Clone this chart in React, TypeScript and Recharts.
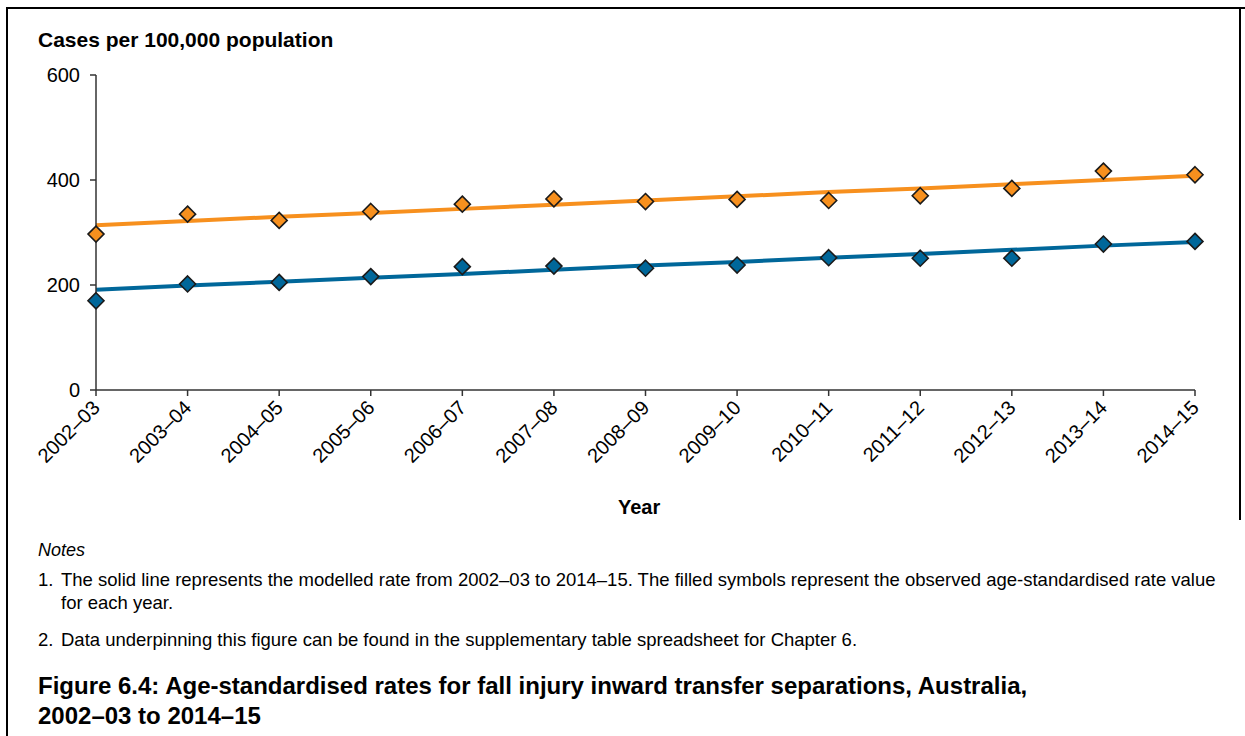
import React from "react";
import { LineChart, Line, XAxis, YAxis } from "recharts";

const years = ["2002–03","2003–04","2004–05","2005–06","2006–07","2007–08","2008–09","2009–10","2010–11","2011–12","2012–13","2013–14","2014–15"];
const orangeObserved = [297, 335, 323, 340, 354, 364, 359, 363, 361, 370, 384, 417, 410];
const orangeModelled = [314, 322, 330, 337, 345, 353, 361, 369, 377, 384, 392, 400, 408];
const blueObserved = [170, 202, 205, 216, 235, 236, 232, 238, 252, 251, 251, 278, 283];
const blueModelled = [191, 199, 206, 214, 221, 229, 237, 244, 252, 259, 267, 275, 282];
const yTicks = [0, 200, 400, 600];

const ORANGE = "#F7901E";
const BLUE = "#00679A";
const FONT = "'Liberation Sans', Arial, sans-serif";

const data = years.map((y, i) => ({
  year: y,
  oObs: orangeObserved[i],
  oMod: orangeModelled[i],
  bObs: blueObserved[i],
  bMod: blueModelled[i],
}));

const makeDiamond = (fill: string) => (props: any) => {
  const { cx, cy, index } = props;
  if (cx == null || cy == null) return <g key={index} />;
  const r = 8;
  return (
    <path
      key={index}
      d={`M${cx},${cy - r}L${cx + r},${cy}L${cx},${cy + r}L${cx - r},${cy}Z`}
      fill={fill}
      stroke="#1a1a1a"
      strokeWidth={1.6}
    />
  );
};

const XTick = (props: any) => {
  const { x, y, payload } = props;
  return (
    <g transform={`translate(${x + 5},${y + 11})`}>
      <text
        x={0}
        y={0}
        textAnchor="end"
        transform="rotate(-45)"
        fontFamily={FONT}
        fontSize={20}
        fill="#000"
      >
        {payload.value}
      </text>
    </g>
  );
};

export default function App() {
  return (
    <div style={{ position: "absolute", left: 0, top: 0, width: 1245, height: 736, background: "#fff", fontFamily: FONT, color: "#000" }}>
      <div style={{ position: "absolute", left: 6, top: 7, width: 1239, height: 2, background: "#000" }} />
      <div style={{ position: "absolute", left: 6, top: 7, width: 2, height: 729, background: "#000" }} />
      <div style={{ position: "absolute", left: 1239, top: 7, width: 2, height: 513, background: "#000" }} />
      <div style={{ position: "absolute", left: 38, top: 29, fontSize: 21, fontWeight: "bold", lineHeight: "22px", whiteSpace: "nowrap" }}>
        Cases per 100,000 population
      </div>
      <div style={{ position: "absolute", left: 0, top: 0 }}>
        <LineChart width={1245} height={530} data={data} margin={{ top: 75, right: 50, bottom: 30, left: 26 }}>
          <XAxis
            dataKey="year"
            interval={0}
            height={110}
            tick={<XTick />}
            tickSize={6}
            axisLine={{ stroke: "#333", strokeWidth: 1.5 }}
            tickLine={{ stroke: "#333", strokeWidth: 1.5 }}
          />
          <YAxis
            domain={[0, 600]}
            ticks={yTicks}
            width={70}
            tickSize={6}
            tickMargin={10}
            axisLine={{ stroke: "#333", strokeWidth: 1.5 }}
            tickLine={{ stroke: "#333", strokeWidth: 1.5 }}
            tick={{ fontFamily: FONT, fontSize: 20, fill: "#000" }}
          />
          <Line dataKey="oMod" stroke={ORANGE} strokeWidth={4} dot={false} isAnimationActive={false} />
          <Line dataKey="bMod" stroke={BLUE} strokeWidth={4} dot={false} isAnimationActive={false} />
          <Line dataKey="oObs" stroke="none" dot={makeDiamond(ORANGE)} activeDot={false} isAnimationActive={false} />
          <Line dataKey="bObs" stroke="none" dot={makeDiamond(BLUE)} activeDot={false} isAnimationActive={false} />
        </LineChart>
      </div>
      <div style={{ position: "absolute", left: 618, top: 496, fontSize: 20, fontWeight: "bold", lineHeight: "22px" }}>Year</div>
      <div style={{ position: "absolute", left: 38, top: 539, fontSize: 18, fontStyle: "italic", lineHeight: "23px" }}>Notes</div>
      <div style={{ position: "absolute", left: 38, top: 568, width: 1200, fontSize: 18.5, lineHeight: "23px" }}>
        <div style={{ display: "flex" }}>
          <span style={{ width: 23, flexShrink: 0 }}>1.</span>
          <span>The solid line represents the modelled rate from 2002–03 to 2014–15. The filled symbols represent the observed age-standardised rate value for each year.</span>
        </div>
        <div style={{ display: "flex", marginTop: 14 }}>
          <span style={{ width: 23, flexShrink: 0 }}>2.</span>
          <span>Data underpinning this figure can be found in the supplementary table spreadsheet for Chapter 6.</span>
        </div>
      </div>
      <div style={{ position: "absolute", left: 38, top: 671, width: 1190, fontSize: 24, fontWeight: "bold", lineHeight: "30px", whiteSpace: "nowrap" }}>
        Figure 6.4: Age-standardised rates for fall injury inward transfer separations, Australia,
        <br />
        2002–03 to 2014–15
      </div>
    </div>
  );
}
